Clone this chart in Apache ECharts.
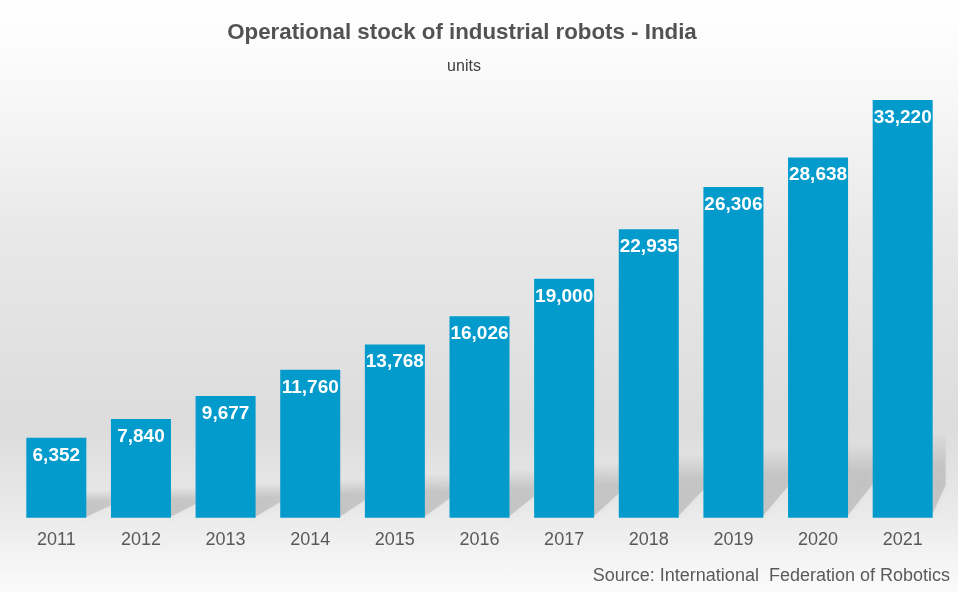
<!DOCTYPE html>
<html>
<head>
<meta charset="utf-8">
<script src="https://cdn.jsdelivr.net/npm/echarts@6/dist/echarts.min.js"></script>
<style>
html,body{margin:0;padding:0;}
#chart{width:958px;height:592px;background:linear-gradient(to bottom,#ffffff 0%,#fafafa 12%,#e8e8e8 40%,#dcdcdc 72%,#e9e9e9 86%,#fbfbfb 100%);}
</style>
</head>
<body>
<div id="chart"></div>
<script>
const titleText = 'Operational stock of industrial robots - India';
const subtitleText = 'units';
const sourceText = 'Source: International  Federation of Robotics';
const years = ['2011','2012','2013','2014','2015','2016','2017','2018','2019','2020','2021'];
const stock = [6352, 7840, 9677, 11760, 13768, 16026, 19000, 22935, 26306, 28638, 33220];

const chart = echarts.init(document.getElementById('chart'), null, {renderer: 'canvas'});
const FONT = 'Arial, "Liberation Sans", sans-serif';
const BAR_W = 60;

chart.setOption({
  backgroundColor: 'transparent',
  animation: false,
  graphic: [
    {
      type: 'text', x: 462, y: 33,
      style: {text: titleText, font: 'bold 22.3px ' + FONT, fill: '#525252', textAlign: 'center', textVerticalAlign: 'middle'}
    },
    {
      type: 'text', x: 464, y: 67,
      style: {text: subtitleText, font: '16px ' + FONT, fill: '#404040', textAlign: 'center', textVerticalAlign: 'middle'}
    },
    {
      type: 'text', right: 8, top: 567,
      style: {text: sourceText, font: '18px ' + FONT, fill: '#5a5a5a'}
    }
  ],
  grid: {left: 14, right: 13, top: 14.7, bottom: 74.3, containLabel: false},
  xAxis: {
    type: 'category',
    data: years,
    axisLine: {show: false},
    axisTick: {show: false},
    axisLabel: {fontFamily: FONT, fontSize: 18, color: '#595959', margin: 13}
  },
  yAxis: {type: 'value', min: 0, max: 40000, show: false, splitLine: {show: false}},
  series: [
    {
      type: 'custom',
      z: 1,
      silent: true,
      data: stock.map((v, i) => [i, v]),
      renderItem: function (params, api) {
        const idx = api.value(0);
        const top = api.coord([idx, api.value(1)]);
        const base = api.coord([idx, 0]);
        const barH = base[1] - top[1];
        const xR = base[0] + BAR_W / 2;
        const yB = base[1];
        const H = Math.min(86, 14 + barH * 0.17);
        const s = idx === stock.length - 1 ? 13 : 25;
        return {
          type: 'polygon',
          shape: {points: [[xR - 2, yB], [xR + s, yB - Math.min(H * 0.45, s * 2.5)], [xR + s, yB - H], [xR - 2, yB - H]]},
          style: {
            fill: new echarts.graphic.LinearGradient(0, 0, 0, 1, [
              {offset: 0, color: 'rgba(90,90,90,0)'},
              {offset: 0.4, color: 'rgba(90,90,90,0.2)'},
              {offset: 1, color: 'rgba(90,90,90,0.24)'}
            ]),
            shadowBlur: 6,
            shadowColor: 'rgba(90,90,90,0.2)'
          }
        };
      }
    },
    {
      type: 'bar',
      z: 2,
      data: stock,
      barWidth: BAR_W,
      itemStyle: {color: '#029bcc'},
      label: {
        show: true,
        position: 'insideTop',
        distance: 8,
        fontFamily: FONT,
        fontSize: 19,
        fontWeight: 'bold',
        color: '#ffffff',
        formatter: p => p.value.toLocaleString('en-US')
      }
    }
  ]
});
</script>
</body>
</html>
